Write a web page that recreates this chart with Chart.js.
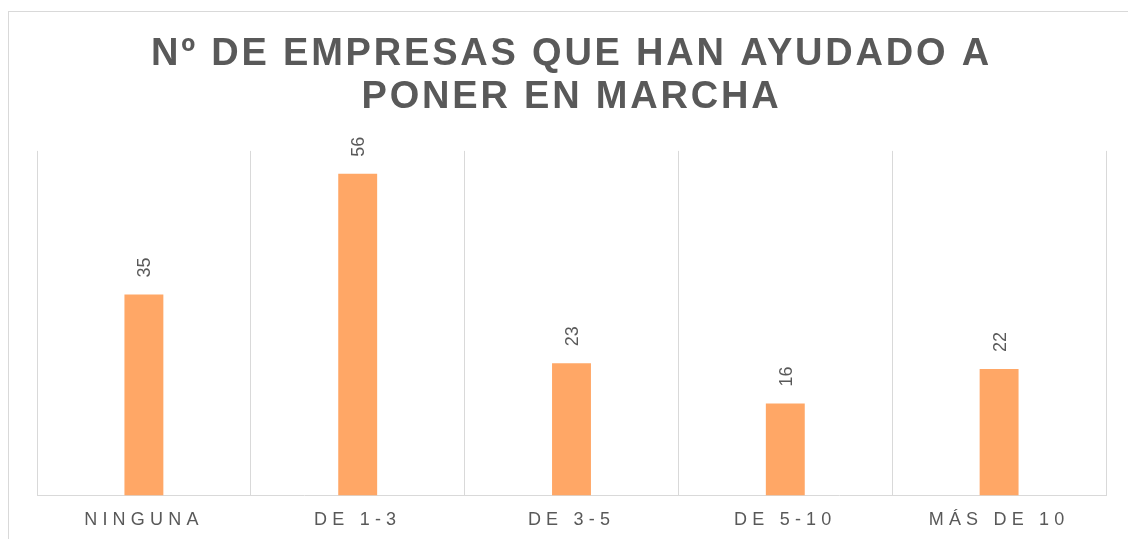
<!DOCTYPE html>
<html>
<head>
<meta charset="utf-8">
<script src="https://cdn.jsdelivr.net/npm/chart.js@4"></script>
<style>
  html, body { margin: 0; padding: 0; background: #fff; overflow: hidden; }
  #frame {
    position: absolute; left: 8px; top: 11px; width: 1200px; height: 600px;
    border-left: 1px solid #d9d9d9; border-top: 1px solid #d9d9d9;
  }
  #wrap { position: absolute; left: 0; top: 0; width: 1128px; height: 553px; }
</style>
</head>
<body>
<div id="frame"></div>
<div id="wrap"><canvas id="chart"></canvas></div>
<script>
// chart data
const categories = ["NINGUNA", "DE 1-3", "DE 3-5", "DE 5-10", "MÁS DE 10"];
const empresas = [35, 56, 23, 16, 22];
const titleLines = ["Nº DE EMPRESAS QUE HAN AYUDADO A", "PONER EN MARCHA"];

const textGrey = "#595959";
const gridGrey = "#d9d9d9";

// letter spacing: title before the layers, ticks after the datasets
const spacingPlugin = {
  id: "spacing",
  beforeDraw(chart) {
    chart.ctx.letterSpacing = "2.8px";
  },
  afterDatasetsDraw(chart) {
    const ctx = chart.ctx;
    // value labels, rotated
    const meta = chart.getDatasetMeta(0);
    ctx.save();
    ctx.letterSpacing = "0px";
    ctx.fillStyle = textGrey;
    ctx.font = "18px 'Liberation Sans', Arial, sans-serif";
    ctx.textAlign = "left";
    ctx.textBaseline = "middle";
    meta.data.forEach((bar, i) => {
      ctx.save();
      ctx.translate(bar.x + 1.5, bar.y - 17);
      ctx.rotate(-Math.PI / 2);
      ctx.fillText(String(empresas[i]), 0, 0);
      ctx.restore();
    });
    ctx.restore();
    ctx.letterSpacing = "5.2px";
  },
  afterDraw(chart) {
    chart.ctx.letterSpacing = "0px";
  }
};

new Chart(document.getElementById("chart"), {
  type: "bar",
  data: {
    labels: categories,
    datasets: [{
      data: empresas,
      backgroundColor: "#ffa766",
      barPercentage: 0.182,
      categoryPercentage: 1
    }]
  },
  options: {
    responsive: true,
    maintainAspectRatio: false,
    animation: false,
    layout: { padding: { left: 37, right: 22, top: 0, bottom: 8 } },
    plugins: {
      legend: { display: false },
      tooltip: { enabled: false },
      title: {
        display: true,
        text: titleLines,
        color: textGrey,
        font: { family: "'Liberation Sans', Arial, sans-serif", size: 38, weight: "bold", lineHeight: 1.13 },
        padding: { top: 33, bottom: 32 }
      }
    },
    scales: {
      x: {
        grid: { color: gridGrey, lineWidth: 1, drawTicks: false },
        border: { color: gridGrey, width: 1 },
        ticks: {
          color: textGrey,
          font: { family: "'Liberation Sans', Arial, sans-serif", size: 18 },
          padding: 14,
          autoSkip: false,
          maxRotation: 0,
          z: 1
        }
      },
      y: {
        display: false,
        min: 0,
        max: 60
      }
    }
  },
  plugins: [spacingPlugin]
});
</script>
</body>
</html>
